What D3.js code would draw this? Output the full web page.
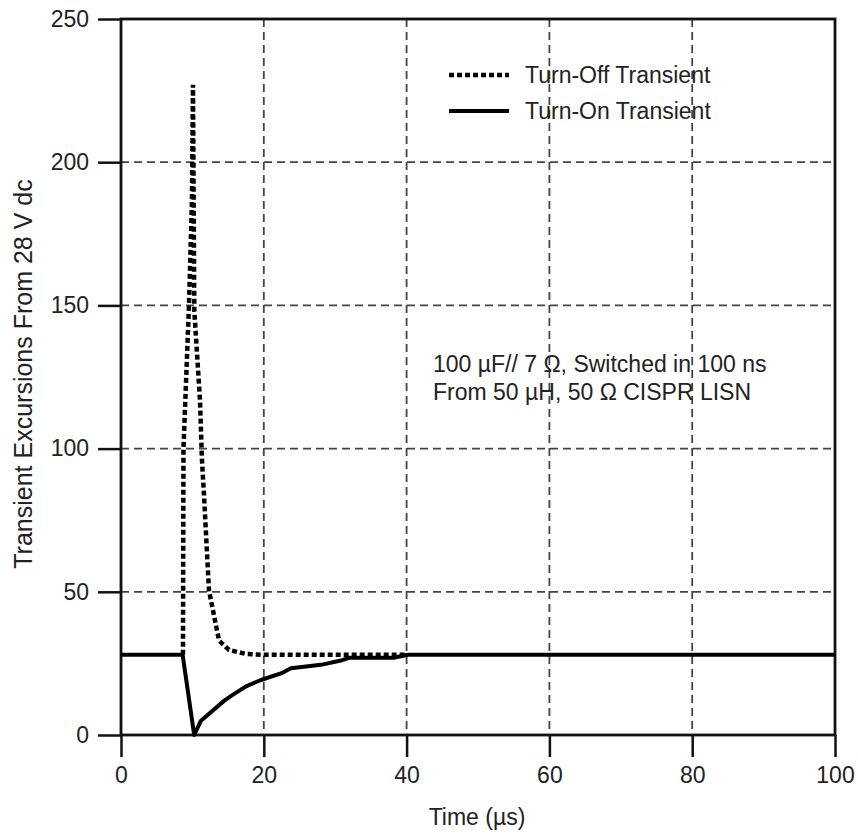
<!DOCTYPE html>
<html>
<head>
<meta charset="utf-8">
<script src="https://cdn.jsdelivr.net/npm/d3@7"></script>
<style>
body { margin: 0; background: #fff; }
text { font-family: "Liberation Sans", Arial, Helvetica, sans-serif; fill: #222; }
.grid line { stroke: #444; stroke-width: 1.8; stroke-dasharray: 8,5; }
.axis line { stroke: #111; stroke-width: 2.5; }
.axis text { font-size: 23px; fill: #222; }
</style>
</head>
<body>
<div id="graph"></div>
<script>
// turn-off transient (dashed), flat part before 8.68 us lies under the solid line
var offTime = [8.68, 8.75, 9.52, 9.94, 10.08, 10.27, 11.06, 11.34, 11.62, 12.32, 13.73, 15.13, 17.5, 20, 40];
var offValue = [28, 100, 150, 187, 227, 148, 117, 96, 84, 50.5, 33, 29.7, 28.3, 28, 28];

// turn-on transient (solid)
var onTime = [0, 8.63, 10.25, 11.2, 14.47, 15.64, 17.5, 19.6, 22.4, 23.8, 28, 30.8, 32, 38.2, 40.2, 100];
var onValue = [28, 28, 0, 5, 12, 14, 17, 19.2, 21.5, 23.3, 24.5, 26, 27, 27, 28, 28];

var xTicks = [0, 20, 40, 60, 80, 100];
var yTicks = [0, 50, 100, 150, 200, 250];
var legendLabels = ["Turn-Off Transient", "Turn-On Transient"];
var noteLines = ["100 \u00b5F// 7 \u03a9, Switched in 100 ns", "From 50 \u00b5H, 50 \u03a9 CISPR LISN"];

var svgWidth = 858,
svgHeight = 834,
svg = d3.select('#graph').append('svg').attr('width', svgWidth).attr('height', svgHeight),
margin = {top: 19, right: 23, bottom: 99, left: 121},
width = svgWidth - margin.left - margin.right,
height = svgHeight - margin.bottom - margin.top;

var g = svg.append('g').attr('transform', 'translate(' + margin.left + ',' + margin.top + ')');

var x = d3.scaleLinear().domain([0, 100]).range([0, width]);
var y = d3.scaleLinear().domain([0, 250]).range([height, 0]);

// grid
g.append('g').attr('class', 'grid')
.selectAll('line').data(xTicks.slice(1, -1)).enter().append('line')
.attr('x1', function(d) { return x(d); }).attr('x2', function(d) { return x(d); })
.attr('y1', 0).attr('y2', height);

g.append('g').attr('class', 'grid')
.selectAll('line').data(yTicks.slice(1, -1)).enter().append('line')
.attr('y1', function(d) { return y(d); }).attr('y2', function(d) { return y(d); })
.attr('x1', 0).attr('x2', width);

// axes
var xAxis = g.append('g').attr('class', 'axis')
.attr('transform', 'translate(0,' + height + ')')
.call(d3.axisBottom(x).tickValues(xTicks).tickSize(22).tickSizeOuter(0).tickPadding(10));
xAxis.select('.domain').remove();

var yAxis = g.append('g').attr('class', 'axis')
.call(d3.axisLeft(y).tickValues(yTicks).tickSize(23).tickSizeOuter(0).tickPadding(9));
yAxis.select('.domain').remove();

g.append('rect')
.attr('width', width).attr('height', height)
.attr('fill', 'none').attr('stroke', '#111').attr('stroke-width', 2.8);

// data lines
var offData = offTime.map(function(t, i) { return {t: t, v: offValue[i]}; });
var onData = onTime.map(function(t, i) { return {t: t, v: onValue[i]}; });

var line = d3.line()
.x(function(d) { return x(d.t); })
.y(function(d) { return y(d.v); });

g.append('path').datum(onData)
.attr('fill', 'none').attr('stroke', '#000').attr('stroke-width', 4)
.attr('stroke-linejoin', 'round')
.attr('d', line);

g.append('path').datum(offData)
.attr('fill', 'none').attr('stroke', '#000').attr('stroke-width', 4.5)
.attr('stroke-dasharray', '5,3')
.attr('d', line);

// legend
var legend = svg.append('g').attr('transform', 'translate(449,75)');
legendLabels.forEach(function(label, i) {
    legend.append('line')
    .attr('x1', 0).attr('x2', 60)
    .attr('y1', i * 36).attr('y2', i * 36)
    .attr('stroke', '#000')
    .attr('stroke-width', i == 0 ? 4.5 : 4)
    .attr('stroke-dasharray', i == 0 ? '5,3' : null);
    legend.append('text')
    .attr('x', 76).attr('y', i * 36 + 8)
    .style('font-size', '23px')
    .text(label);
});

// note
noteLines.forEach(function(s, i) {
    svg.append('text')
    .attr('x', 433).attr('y', 372 + i * 28)
    .style('font-size', '23px')
    .text(s);
});

// axis titles
svg.append('text')
.attr('transform', 'translate(' + (margin.left + width / 2 - 1) + ',825)')
.style('text-anchor', 'middle')
.style('font-size', '23px')
.text('Time (\u00b5s)');

svg.append('text')
.attr('transform', 'translate(32,' + 374 + ') rotate(-90)')
.style('text-anchor', 'middle')
.style('font-size', '25px')
.text('Transient Excursions From 28 V dc');
</script>
</body>
</html>
